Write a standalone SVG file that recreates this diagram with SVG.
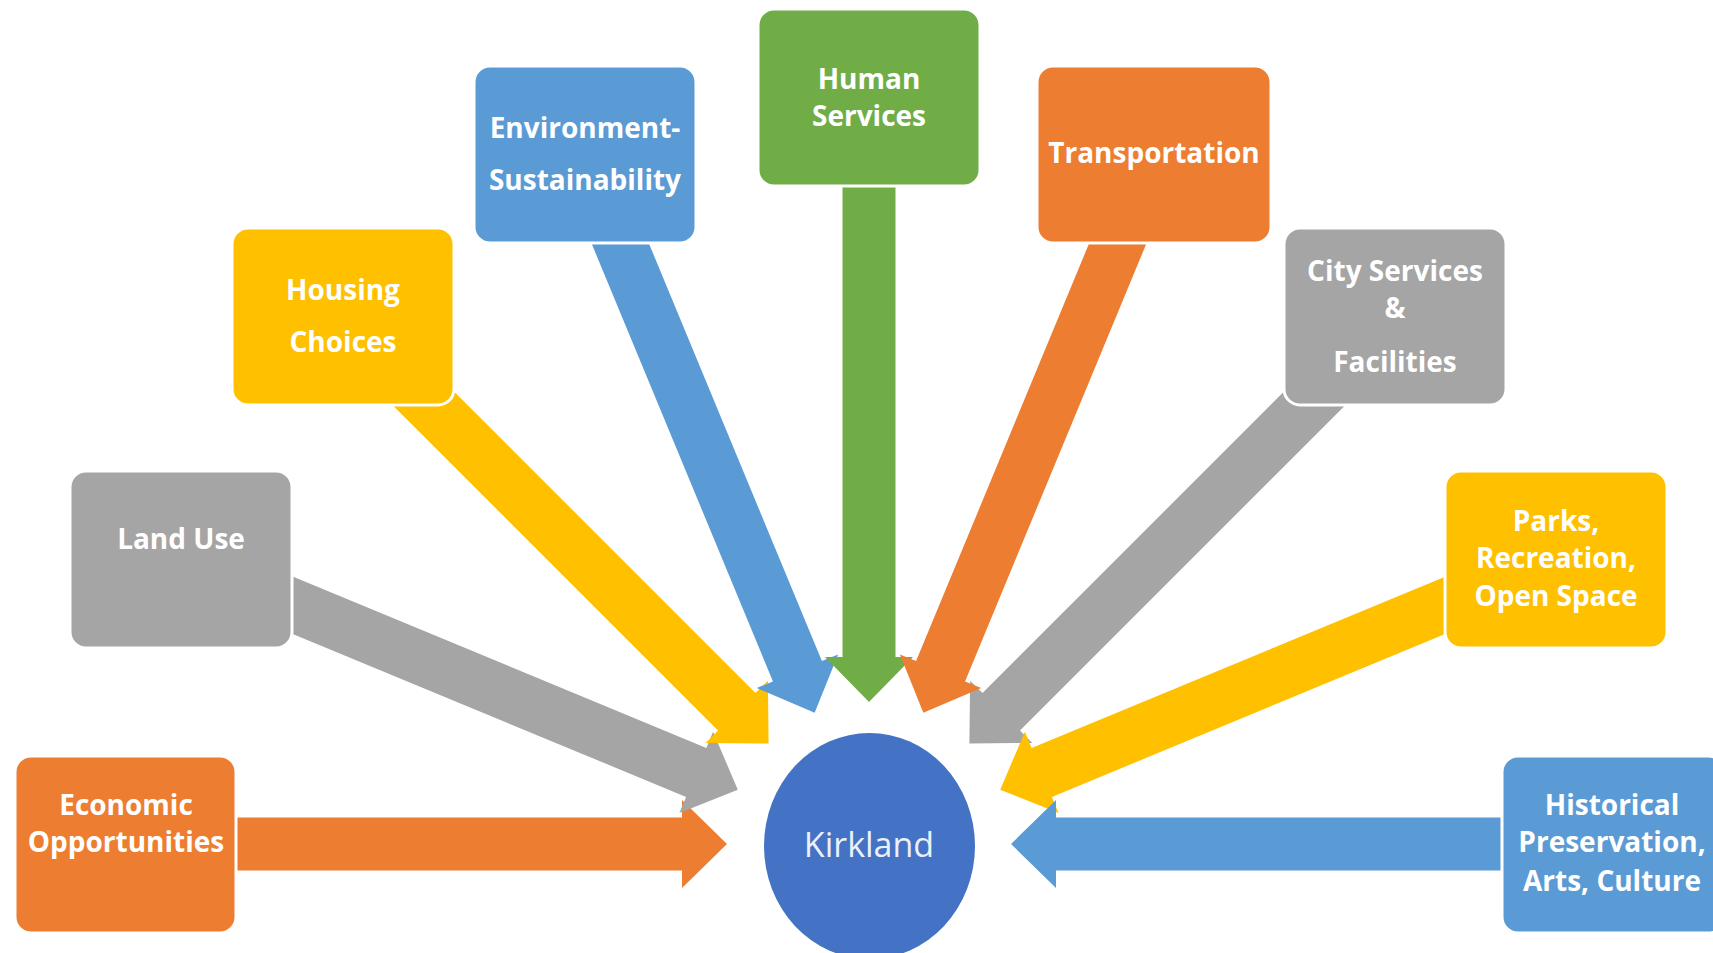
<svg xmlns="http://www.w3.org/2000/svg" xmlns:xlink="http://www.w3.org/1999/xlink" width="1713" height="953" viewBox="0 0 1713 953">
<style>
.box{stroke:#ffffff;stroke-width:3}
.orange{fill:#ED7D31}
.grey{fill:#A5A5A5}
.yellow{fill:#FFC000}
.blue{fill:#5B9BD5}
.green{fill:#70AD47}
.lbl{font-family:"Open Sans","Noto Sans","Liberation Sans",sans-serif;font-weight:700;font-size:28px;fill:#ffffff;text-anchor:middle}
.center{font-family:"Open Sans","Noto Sans","Liberation Sans",sans-serif;font-weight:400;font-size:34px;fill:#EAF1FA;text-anchor:middle}
</style>
<defs>
<polygon id="arrow" points="-602,-26.5 -45,-26.5 -45,-44 0,0 -45,44 -45,26.5 -602,26.5"/>
</defs>
<rect width="1713" height="953" fill="#ffffff"/>
<g id="connectors">
<use xlink:href="#arrow" class="orange" transform="translate(869 844) rotate(0) translate(-142 0)"/>
<use xlink:href="#arrow" class="grey" transform="translate(869 844) rotate(22.5) translate(-142 0)"/>
<use xlink:href="#arrow" class="yellow" transform="translate(869 844) rotate(45) translate(-142 0)"/>
<use xlink:href="#arrow" class="blue" transform="translate(869 844) rotate(67.5) translate(-142 0)"/>
<use xlink:href="#arrow" class="green" transform="translate(869 844) rotate(90) translate(-142 0)"/>
<use xlink:href="#arrow" class="grey" transform="translate(869 844) rotate(135) translate(-142 0)"/>
<use xlink:href="#arrow" class="orange" transform="translate(869 844) rotate(112.5) translate(-142 0)"/>
<use xlink:href="#arrow" class="yellow" transform="translate(869 844) rotate(157.5) translate(-142 0)"/>
<use xlink:href="#arrow" class="blue" transform="translate(869 844) rotate(180) translate(-142 0)"/>
</g>
<g id="economic">
<rect class="box orange" x="15" y="756" width="221" height="177" rx="16"/>
<text class="lbl" x="126" y="815">Economic</text>
<text class="lbl" x="126" y="852">Opportunities</text>
</g>
<g id="land-use">
<rect class="box grey" x="70" y="471" width="222" height="177" rx="16"/>
<text class="lbl" x="181" y="549">Land Use</text>
</g>
<g id="housing">
<rect class="box yellow" x="232" y="228" width="222" height="177" rx="16"/>
<text class="lbl" x="343" y="300">Housing</text>
<text class="lbl" x="343" y="352">Choices</text>
</g>
<g id="environment">
<rect class="box blue" x="474" y="66" width="222" height="177" rx="16"/>
<text class="lbl" x="585" y="138">Environment-</text>
<text class="lbl" x="585" y="190">Sustainability</text>
</g>
<g id="human-services">
<rect class="box green" x="758" y="9" width="222" height="177" rx="16"/>
<text class="lbl" x="869" y="89">Human</text>
<text class="lbl" x="869" y="126">Services</text>
</g>
<g id="transportation">
<rect class="box orange" x="1037" y="66" width="234" height="177" rx="16"/>
<text class="lbl" x="1154" y="163">Transportation</text>
</g>
<g id="city-services">
<rect class="box grey" x="1284" y="228" width="222" height="177" rx="16"/>
<text class="lbl" x="1395" y="281">City Services</text>
<text class="lbl" x="1395" y="318">&amp;</text>
<text class="lbl" x="1395" y="372">Facilities</text>
</g>
<g id="parks">
<rect class="box yellow" x="1445" y="471" width="222" height="177" rx="16"/>
<text class="lbl" x="1556" y="531">Parks,</text>
<text class="lbl" x="1556" y="568">Recreation,</text>
<text class="lbl" x="1556" y="606">Open Space</text>
</g>
<g id="historical">
<rect class="box blue" x="1502" y="756" width="222" height="177" rx="16"/>
<text class="lbl" x="1612" y="815">Historical</text>
<text class="lbl" x="1612" y="852">Preservation,</text>
<text class="lbl" x="1612" y="891">Arts, Culture</text>
</g>
<g id="kirkland">
<ellipse cx="869.5" cy="846" rx="105.5" ry="113" fill="#4472C4"/>
<text class="center" x="869" y="857">Kirkland</text>
</g>
</svg>
